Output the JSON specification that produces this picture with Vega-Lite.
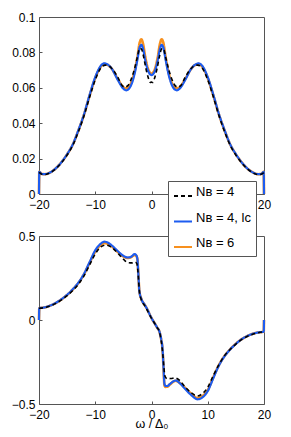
{
"$schema":"https://vega.github.io/schema/vega-lite/v6.json",
"padding":{"left":10,"top":10,"right":5,"bottom":2},
"bounds":"flush",
"spacing":42,
"config":{
 "font":"Liberation Sans",
 "view":{"stroke":"#555","strokeWidth":1},
 "axis":{"grid":false,"domain":false,"tickSize":-3,"tickColor":"#555","labelFontSize":12,"labelColor":"#000","labelOverlap":false,"labelFlush":false,"titleFontWeight":"normal","titleFontSize":12.5,"titleColor":"#000"},
 "axisX":{"labelPadding":8,"titlePadding":-3},
 "axisY":{"labelPadding":7}
},
"datasets":{
"top":[
{"s":"b","w":-20,"v":0},{"s":"b","w":-19.95,"v":0.0125},{"s":"b","w":-19.5,"v":0.0113},{"s":"b","w":-19,"v":0.0112},{"s":"b","w":-18,"v":0.0122},{"s":"b","w":-17,"v":0.0145},{"s":"b","w":-16,"v":0.018},{"s":"b","w":-15,"v":0.0225},{"s":"b","w":-14,"v":0.028},{"s":"b","w":-13,"v":0.036},{"s":"b","w":-12,"v":0.045},{"s":"b","w":-11,"v":0.056},{"s":"b","w":-10,"v":0.066},{"s":"b","w":-9,"v":0.0725},{"s":"b","w":-8.4,"v":0.0738},{"s":"b","w":-8,"v":0.0735},{"s":"b","w":-7,"v":0.0705},{"s":"b","w":-6,"v":0.0645},{"s":"b","w":-5,"v":0.0595},{"s":"b","w":-4.5,"v":0.0586},{"s":"b","w":-4,"v":0.0595},{"s":"b","w":-3.5,"v":0.0625},{"s":"b","w":-3,"v":0.068},{"s":"b","w":-2.5,"v":0.076},{"s":"b","w":-2.1,"v":0.0828},{"s":"b","w":-1.8,"v":0.0843},{"s":"b","w":-1.5,"v":0.082},{"s":"b","w":-1.1,"v":0.0755},{"s":"b","w":-0.6,"v":0.0695},{"s":"b","w":0,"v":0.0672},{"s":"b","w":0.6,"v":0.0695},{"s":"b","w":1.1,"v":0.0755},{"s":"b","w":1.5,"v":0.082},{"s":"b","w":1.8,"v":0.0843},{"s":"b","w":2.1,"v":0.0828},{"s":"b","w":2.5,"v":0.076},{"s":"b","w":3,"v":0.068},{"s":"b","w":3.5,"v":0.0625},{"s":"b","w":4,"v":0.0595},{"s":"b","w":4.5,"v":0.0586},{"s":"b","w":5,"v":0.0595},{"s":"b","w":6,"v":0.0645},{"s":"b","w":7,"v":0.0705},{"s":"b","w":8,"v":0.0735},{"s":"b","w":8.4,"v":0.0738},{"s":"b","w":9,"v":0.0725},{"s":"b","w":10,"v":0.066},{"s":"b","w":11,"v":0.056},{"s":"b","w":12,"v":0.045},{"s":"b","w":13,"v":0.036},{"s":"b","w":14,"v":0.028},{"s":"b","w":15,"v":0.0225},{"s":"b","w":16,"v":0.018},{"s":"b","w":17,"v":0.0145},{"s":"b","w":18,"v":0.0122},{"s":"b","w":19,"v":0.0112},{"s":"b","w":19.5,"v":0.0113},{"s":"b","w":19.95,"v":0.0125},{"s":"b","w":20,"v":0},
{"s":"c","w":-20,"v":0},{"s":"c","w":-19.95,"v":0.0125},{"s":"c","w":-19.5,"v":0.0113},{"s":"c","w":-19,"v":0.0112},{"s":"c","w":-18,"v":0.0122},{"s":"c","w":-17,"v":0.0145},{"s":"c","w":-16,"v":0.018},{"s":"c","w":-15,"v":0.0224},{"s":"c","w":-14,"v":0.0279},{"s":"c","w":-13,"v":0.0358},{"s":"c","w":-12,"v":0.0448},{"s":"c","w":-11,"v":0.0556},{"s":"c","w":-10,"v":0.0655},{"s":"c","w":-9,"v":0.072},{"s":"c","w":-8.4,"v":0.0734},{"s":"c","w":-8,"v":0.0732},{"s":"c","w":-7,"v":0.0705},{"s":"c","w":-6,"v":0.065},{"s":"c","w":-5,"v":0.0603},{"s":"c","w":-4.5,"v":0.0597},{"s":"c","w":-4,"v":0.0605},{"s":"c","w":-3.5,"v":0.0637},{"s":"c","w":-3,"v":0.0693},{"s":"c","w":-2.5,"v":0.0775},{"s":"c","w":-2.1,"v":0.0855},{"s":"c","w":-1.8,"v":0.0874},{"s":"c","w":-1.5,"v":0.0848},{"s":"c","w":-1.1,"v":0.0772},{"s":"c","w":-0.6,"v":0.0705},{"s":"c","w":0,"v":0.068},{"s":"c","w":0.6,"v":0.0705},{"s":"c","w":1.1,"v":0.0772},{"s":"c","w":1.5,"v":0.0848},{"s":"c","w":1.8,"v":0.0874},{"s":"c","w":2.1,"v":0.0855},{"s":"c","w":2.5,"v":0.0775},{"s":"c","w":3,"v":0.0693},{"s":"c","w":3.5,"v":0.0637},{"s":"c","w":4,"v":0.0605},{"s":"c","w":4.5,"v":0.0597},{"s":"c","w":5,"v":0.0603},{"s":"c","w":6,"v":0.065},{"s":"c","w":7,"v":0.0705},{"s":"c","w":8,"v":0.0732},{"s":"c","w":8.4,"v":0.0734},{"s":"c","w":9,"v":0.072},{"s":"c","w":10,"v":0.0655},{"s":"c","w":11,"v":0.0556},{"s":"c","w":12,"v":0.0448},{"s":"c","w":13,"v":0.0358},{"s":"c","w":14,"v":0.0279},{"s":"c","w":15,"v":0.0224},{"s":"c","w":16,"v":0.018},{"s":"c","w":17,"v":0.0145},{"s":"c","w":18,"v":0.0122},{"s":"c","w":19,"v":0.0112},{"s":"c","w":19.5,"v":0.0113},{"s":"c","w":19.95,"v":0.0125},{"s":"c","w":20,"v":0},
{"s":"a","w":-20,"v":0.0122},{"s":"a","w":-19.5,"v":0.0112},{"s":"a","w":-19,"v":0.011},{"s":"a","w":-18,"v":0.012},{"s":"a","w":-17,"v":0.0143},{"s":"a","w":-16,"v":0.0177},{"s":"a","w":-15,"v":0.022},{"s":"a","w":-14,"v":0.0275},{"s":"a","w":-13,"v":0.0352},{"s":"a","w":-12,"v":0.0442},{"s":"a","w":-11,"v":0.0548},{"s":"a","w":-10,"v":0.0645},{"s":"a","w":-9,"v":0.0712},{"s":"a","w":-8.2,"v":0.0728},{"s":"a","w":-7.5,"v":0.0722},{"s":"a","w":-7,"v":0.0708},{"s":"a","w":-6,"v":0.066},{"s":"a","w":-5.2,"v":0.0612},{"s":"a","w":-4.7,"v":0.0604},{"s":"a","w":-4.2,"v":0.0612},{"s":"a","w":-3.6,"v":0.065},{"s":"a","w":-3,"v":0.071},{"s":"a","w":-2.5,"v":0.0775},{"s":"a","w":-2.1,"v":0.0823},{"s":"a","w":-1.8,"v":0.082},{"s":"a","w":-1.4,"v":0.0775},{"s":"a","w":-1,"v":0.071},{"s":"a","w":-0.5,"v":0.065},{"s":"a","w":-0.2,"v":0.063},{"s":"a","w":0,"v":0.0632},{"s":"a","w":0.2,"v":0.063},{"s":"a","w":0.5,"v":0.065},{"s":"a","w":1,"v":0.071},{"s":"a","w":1.4,"v":0.0775},{"s":"a","w":1.8,"v":0.082},{"s":"a","w":2.1,"v":0.0823},{"s":"a","w":2.5,"v":0.0775},{"s":"a","w":3,"v":0.071},{"s":"a","w":3.6,"v":0.065},{"s":"a","w":4.2,"v":0.0612},{"s":"a","w":4.7,"v":0.0604},{"s":"a","w":5.2,"v":0.0612},{"s":"a","w":6,"v":0.066},{"s":"a","w":7,"v":0.0708},{"s":"a","w":7.5,"v":0.0722},{"s":"a","w":8.2,"v":0.0728},{"s":"a","w":9,"v":0.0712},{"s":"a","w":10,"v":0.0645},{"s":"a","w":11,"v":0.0548},{"s":"a","w":12,"v":0.0442},{"s":"a","w":13,"v":0.0352},{"s":"a","w":14,"v":0.0275},{"s":"a","w":15,"v":0.022},{"s":"a","w":16,"v":0.0177},{"s":"a","w":17,"v":0.0143},{"s":"a","w":18,"v":0.012},{"s":"a","w":19,"v":0.011},{"s":"a","w":19.5,"v":0.0112},{"s":"a","w":20,"v":0.0122}
],
"bot":[
{"s":"b","w":-20,"v":0},{"s":"b","w":-19.95,"v":0.07},{"s":"b","w":-19,"v":0.075},{"s":"b","w":-18,"v":0.086},{"s":"b","w":-17,"v":0.102},{"s":"b","w":-16,"v":0.124},{"s":"b","w":-15,"v":0.15},{"s":"b","w":-14,"v":0.183},{"s":"b","w":-13,"v":0.222},{"s":"b","w":-12,"v":0.275},{"s":"b","w":-11,"v":0.345},{"s":"b","w":-10,"v":0.415},{"s":"b","w":-9,"v":0.455},{"s":"b","w":-8.4,"v":0.466},{"s":"b","w":-8,"v":0.464},{"s":"b","w":-7,"v":0.442},{"s":"b","w":-6,"v":0.41},{"s":"b","w":-5,"v":0.382},{"s":"b","w":-4.2,"v":0.372},{"s":"b","w":-3.6,"v":0.377},{"s":"b","w":-3,"v":0.392},{"s":"b","w":-2.7,"v":0.385},{"s":"b","w":-2.5,"v":0.36},{"s":"b","w":-2.35,"v":0.28},{"s":"b","w":-2.15,"v":0.17},{"s":"b","w":-1.8,"v":0.125},{"s":"b","w":-1.2,"v":0.09},{"s":"b","w":-0.7,"v":0.06},{"s":"b","w":-0.2,"v":0.025},{"s":"b","w":0.2,"v":0},{"s":"b","w":0.6,"v":-0.022},{"s":"b","w":1,"v":-0.045},{"s":"b","w":1.4,"v":-0.068},{"s":"b","w":1.7,"v":-0.11},{"s":"b","w":2,"v":-0.19},{"s":"b","w":2.15,"v":-0.29},{"s":"b","w":2.3,"v":-0.38},{"s":"b","w":2.5,"v":-0.392},{"s":"b","w":2.8,"v":-0.393},{"s":"b","w":3.3,"v":-0.38},{"s":"b","w":4.3,"v":-0.36},{"s":"b","w":5,"v":-0.375},{"s":"b","w":5.8,"v":-0.403},{"s":"b","w":7,"v":-0.445},{"s":"b","w":8.2,"v":-0.472},{"s":"b","w":9,"v":-0.462},{"s":"b","w":10,"v":-0.423},{"s":"b","w":11,"v":-0.345},{"s":"b","w":12,"v":-0.27},{"s":"b","w":13,"v":-0.215},{"s":"b","w":14,"v":-0.175},{"s":"b","w":15,"v":-0.142},{"s":"b","w":16,"v":-0.115},{"s":"b","w":17,"v":-0.096},{"s":"b","w":18,"v":-0.082},{"s":"b","w":19,"v":-0.074},{"s":"b","w":19.95,"v":-0.07},{"s":"b","w":20,"v":0},
{"s":"c","w":-20,"v":0},{"s":"c","w":-19.95,"v":0.07},{"s":"c","w":-19,"v":0.075},{"s":"c","w":-18,"v":0.086},{"s":"c","w":-17,"v":0.101},{"s":"c","w":-16,"v":0.123},{"s":"c","w":-15,"v":0.149},{"s":"c","w":-14,"v":0.181},{"s":"c","w":-13,"v":0.22},{"s":"c","w":-12,"v":0.272},{"s":"c","w":-11,"v":0.34},{"s":"c","w":-10,"v":0.407},{"s":"c","w":-9,"v":0.447},{"s":"c","w":-8.4,"v":0.458},{"s":"c","w":-8,"v":0.456},{"s":"c","w":-7,"v":0.436},{"s":"c","w":-6,"v":0.405},{"s":"c","w":-5,"v":0.378},{"s":"c","w":-4.2,"v":0.369},{"s":"c","w":-3.6,"v":0.374},{"s":"c","w":-3,"v":0.387},{"s":"c","w":-2.7,"v":0.382},{"s":"c","w":-2.5,"v":0.36},{"s":"c","w":-2.35,"v":0.28},{"s":"c","w":-2.15,"v":0.17},{"s":"c","w":-1.8,"v":0.125},{"s":"c","w":-1.2,"v":0.09},{"s":"c","w":-0.7,"v":0.06},{"s":"c","w":-0.2,"v":0.025},{"s":"c","w":0.2,"v":0},{"s":"c","w":0.6,"v":-0.022},{"s":"c","w":1,"v":-0.045},{"s":"c","w":1.4,"v":-0.069},{"s":"c","w":1.7,"v":-0.112},{"s":"c","w":2,"v":-0.195},{"s":"c","w":2.15,"v":-0.3},{"s":"c","w":2.3,"v":-0.388},{"s":"c","w":2.5,"v":-0.398},{"s":"c","w":2.8,"v":-0.397},{"s":"c","w":3.3,"v":-0.383},{"s":"c","w":4.3,"v":-0.362},{"s":"c","w":5,"v":-0.374},{"s":"c","w":5.8,"v":-0.398},{"s":"c","w":7,"v":-0.438},{"s":"c","w":8.2,"v":-0.465},{"s":"c","w":9,"v":-0.455},{"s":"c","w":10,"v":-0.417},{"s":"c","w":11,"v":-0.34},{"s":"c","w":12,"v":-0.267},{"s":"c","w":13,"v":-0.213},{"s":"c","w":14,"v":-0.174},{"s":"c","w":15,"v":-0.141},{"s":"c","w":16,"v":-0.115},{"s":"c","w":17,"v":-0.096},{"s":"c","w":18,"v":-0.082},{"s":"c","w":19,"v":-0.074},{"s":"c","w":19.95,"v":-0.07},{"s":"c","w":20,"v":0},
{"s":"a","w":-20,"v":0.07},{"s":"a","w":-19,"v":0.074},{"s":"a","w":-18,"v":0.084},{"s":"a","w":-17,"v":0.099},{"s":"a","w":-16,"v":0.12},{"s":"a","w":-15,"v":0.145},{"s":"a","w":-14,"v":0.176},{"s":"a","w":-13,"v":0.213},{"s":"a","w":-12,"v":0.263},{"s":"a","w":-11,"v":0.328},{"s":"a","w":-10,"v":0.393},{"s":"a","w":-9,"v":0.435},{"s":"a","w":-8.2,"v":0.446},{"s":"a","w":-7.5,"v":0.44},{"s":"a","w":-7,"v":0.43},{"s":"a","w":-6,"v":0.398},{"s":"a","w":-5,"v":0.362},{"s":"a","w":-4.2,"v":0.342},{"s":"a","w":-3.5,"v":0.34},{"s":"a","w":-2.9,"v":0.345},{"s":"a","w":-2.6,"v":0.335},{"s":"a","w":-2.45,"v":0.3},{"s":"a","w":-2.3,"v":0.24},{"s":"a","w":-2.15,"v":0.17},{"s":"a","w":-1.8,"v":0.12},{"s":"a","w":-1.2,"v":0.085},{"s":"a","w":-0.7,"v":0.055},{"s":"a","w":-0.2,"v":0.022},{"s":"a","w":0.2,"v":0},{"s":"a","w":0.6,"v":-0.022},{"s":"a","w":1,"v":-0.045},{"s":"a","w":1.4,"v":-0.07},{"s":"a","w":1.8,"v":-0.14},{"s":"a","w":2,"v":-0.2},{"s":"a","w":2.2,"v":-0.28},{"s":"a","w":2.4,"v":-0.335},{"s":"a","w":2.8,"v":-0.35},{"s":"a","w":3.5,"v":-0.348},{"s":"a","w":4.2,"v":-0.345},{"s":"a","w":5,"v":-0.36},{"s":"a","w":6,"v":-0.4},{"s":"a","w":7,"v":-0.432},{"s":"a","w":8.2,"v":-0.452},{"s":"a","w":9,"v":-0.44},{"s":"a","w":10,"v":-0.4},{"s":"a","w":11,"v":-0.33},{"s":"a","w":12,"v":-0.265},{"s":"a","w":13,"v":-0.212},{"s":"a","w":14,"v":-0.174},{"s":"a","w":15,"v":-0.143},{"s":"a","w":16,"v":-0.117},{"s":"a","w":17,"v":-0.098},{"s":"a","w":18,"v":-0.085},{"s":"a","w":19,"v":-0.076},{"s":"a","w":20,"v":-0.07}
]
},
"vconcat":[
{
 "width":225,"height":177,
 "data":{"name":"top"},
 "encoding":{
  "x":{"field":"w","type":"quantitative","scale":{"domain":[-20,20],"nice":false},"axis":{"values":[-20,-10,0,10,20],"title":null}},
  "y":{"field":"v","type":"quantitative","scale":{"domain":[0,0.1],"nice":false},"axis":{"values":[0,0.02,0.04,0.06,0.08,0.1],"format":"~g","title":null}},
  "color":{"field":"s","type":"nominal","scale":{"domain":["a","b","c"],"range":["#000000","#1d5cf0","#f7901e"]},
   "legend":{"title":null,"orient":"none","legendX":129,"legendY":164,"fillColor":"#ffffff","strokeColor":"#555","padding":5,"rowPadding":11.5,"symbolType":"stroke","symbolSize":324,"symbolStrokeWidth":2,"labelFontSize":13,"labelOffset":3,"labelBaseline":"alphabetic","labelColor":"#000","labelExpr":"datum.label == 'a' ? 'Nʙ = 4' : datum.label == 'b' ? 'Nʙ = 4, lc' : 'Nʙ = 6'"}},
  "strokeDash":{"field":"s","type":"nominal","scale":{"domain":["a","b","c"],"range":[[4,3],[1,0],[1,0]]},
   "legend":{"title":null,"orient":"none","legendX":129,"legendY":164,"fillColor":"#ffffff","strokeColor":"#555","padding":5,"rowPadding":11.5,"symbolType":"stroke","symbolSize":324,"symbolStrokeWidth":2,"labelFontSize":13,"labelOffset":3,"labelBaseline":"alphabetic","labelColor":"#000","labelExpr":"datum.label == 'a' ? 'Nʙ = 4' : datum.label == 'b' ? 'Nʙ = 4, lc' : 'Nʙ = 6'"}}
 },
 "layer":[
  {"transform":[{"filter":"datum.s == 'c'"}],"mark":{"type":"line","strokeWidth":2.6,"interpolate":"monotone"}},
  {"transform":[{"filter":"datum.s == 'b'"}],"mark":{"type":"line","strokeWidth":2.2,"interpolate":"monotone"}},
  {"transform":[{"filter":"datum.s == 'a'"}],"mark":{"type":"line","strokeWidth":1.6,"interpolate":"monotone"}}
 ]
},
{
 "width":225,"height":168,
 "data":{"name":"bot"},
 "encoding":{
  "x":{"field":"w","type":"quantitative","scale":{"domain":[-20,20],"nice":false},"axis":{"values":[-20,-10,0,10,20],"title":"ω / Δ₀"}},
  "y":{"field":"v","type":"quantitative","scale":{"domain":[-0.5,0.5],"nice":false},"axis":{"values":[-0.5,0,0.5],"format":"~g","title":null}},
  "color":{"field":"s","type":"nominal","scale":{"domain":["a","b","c"],"range":["#000000","#1d5cf0","#f7901e"]}},
  "strokeDash":{"field":"s","type":"nominal","scale":{"domain":["a","b","c"],"range":[[4,3],[1,0],[1,0]]}}
 },
 "layer":[
  {"transform":[{"filter":"datum.s == 'c'"}],"mark":{"type":"line","strokeWidth":2.6,"interpolate":"monotone"}},
  {"transform":[{"filter":"datum.s == 'b'"}],"mark":{"type":"line","strokeWidth":2.2,"interpolate":"monotone"}},
  {"transform":[{"filter":"datum.s == 'a'"}],"mark":{"type":"line","strokeWidth":1.6,"interpolate":"monotone"}}
 ]
}
]
}
